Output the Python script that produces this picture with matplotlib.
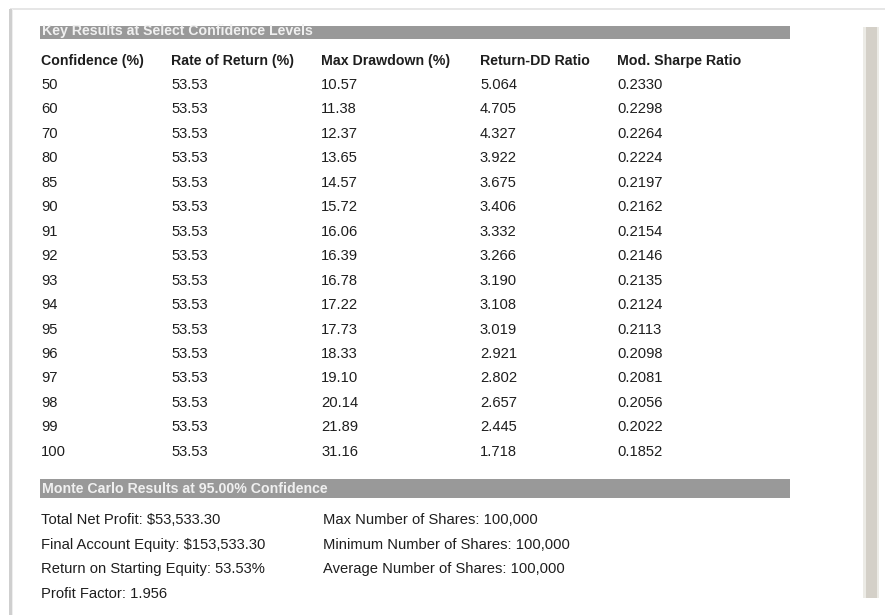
import matplotlib
matplotlib.use("Agg")
import matplotlib.pyplot as plt
from matplotlib.patches import Rectangle

# ---- data ----
title_top = "Key Results at Select Confidence Levels"
title_bottom = "Monte Carlo Results at 95.00% Confidence"
headers = ["Confidence (%)", "Rate of Return (%)", "Max Drawdown (%)", "Return-DD Ratio", "Mod. Sharpe Ratio"]
confidence = ["50", "60", "70", "80", "85", "90", "91", "92", "93", "94", "95", "96", "97", "98", "99", "100"]
rate_of_return = ["53.53"] * 16
max_drawdown = ["10.57", "11.38", "12.37", "13.65", "14.57", "15.72", "16.06", "16.39",
                "16.78", "17.22", "17.73", "18.33", "19.10", "20.14", "21.89", "31.16"]
return_dd = ["5.064", "4.705", "4.327", "3.922", "3.675", "3.406", "3.332", "3.266",
             "3.190", "3.108", "3.019", "2.921", "2.802", "2.657", "2.445", "1.718"]
mod_sharpe = ["0.2330", "0.2298", "0.2264", "0.2224", "0.2197", "0.2162", "0.2154", "0.2146",
              "0.2135", "0.2124", "0.2113", "0.2098", "0.2081", "0.2056", "0.2022", "0.1852"]
summary_left = ["Total Net Profit: $53,533.30", "Final Account Equity: $153,533.30",
                "Return on Starting Equity: 53.53%", "Profit Factor: 1.956"]
summary_right = ["Max Number of Shares: 100,000", "Minimum Number of Shares: 100,000",
                 "Average Number of Shares: 100,000"]

# ---- layout ----
W, H = 885, 615
fig = plt.figure(figsize=(W / 100, H / 100), dpi=100)
ax = fig.add_axes([0, 0, 1, 1])
ax.set_xlim(0, W)
ax.set_ylim(H, 0)
ax.axis("off")

FONT = "Liberation Sans"
FS = 10.6
FSB = 10.2
TXT = "#1e1e1e"

# page shadow edges
ax.add_patch(Rectangle((10, 8), W - 10, 1.5, color="#e6e6e6", lw=0))
ax.add_patch(Rectangle((8.5, 9), 3, H - 9, color="#cfcfcf", lw=0))
ax.add_patch(Rectangle((11.5, 9), 1.5, H - 9, color="#eeeeee", lw=0))

# scrollbar-like strip
ax.add_patch(Rectangle((863, 27), 3, 571, color="#ecebe6", lw=0))
ax.add_patch(Rectangle((866, 27), 11, 571, color="#d4d0c8", lw=0))
ax.add_patch(Rectangle((877, 27), 1.5, 571, color="#ecebe6", lw=0))

# top gray bar (title clipped at top)
ax.add_patch(Rectangle((40, 26), 750, 13, color="#999999", lw=0))
t = ax.text(42, 34.5, title_top, fontsize=FSB, fontweight="bold", family=FONT,
            color="#f0f0f0", va="baseline", ha="left")
t.set_clip_path(Rectangle((40, 26.5), 750, 13, transform=ax.transData))

# column headers and data
col_x = [41, 171, 321, 480, 617]
header_y = 65.2
row0 = 89
dy = 24.45
for x, h in zip(col_x, headers):
    ax.text(x, header_y, h, fontsize=FSB, fontweight="bold", family=FONT, color=TXT,
            va="baseline", ha="left")
columns = [confidence, rate_of_return, max_drawdown, return_dd, mod_sharpe]
for x, col in zip(col_x, columns):
    for i, v in enumerate(col):
        ax.text(x, row0 + i * dy, v, fontsize=FS, family=FONT, color=TXT,
                va="baseline", ha="left")

# bottom gray bar
ax.add_patch(Rectangle((40, 479), 750, 19, color="#999999", lw=0))
ax.text(42, 493, title_bottom, fontsize=FSB, fontweight="bold", family=FONT,
        color="#f0f0f0", va="baseline", ha="left")

# summary
s0 = 524.5
sdy = 24.5
for i, s in enumerate(summary_left):
    ax.text(41, s0 + i * sdy, s, fontsize=FS, family=FONT, color=TXT, va="baseline", ha="left")
for i, s in enumerate(summary_right):
    ax.text(323, s0 + i * sdy, s, fontsize=FS, family=FONT, color=TXT, va="baseline", ha="left")

fig.savefig("out.png", dpi=100)
